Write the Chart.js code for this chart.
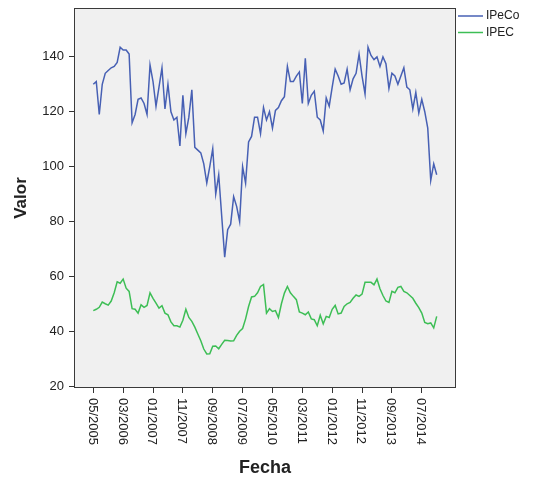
<!DOCTYPE html>
<html><head><meta charset="utf-8">
<script src="https://cdn.jsdelivr.net/npm/chart.js@4/dist/chart.umd.min.js"></script>
<style>html,body{margin:0;padding:0;background:#fff;}canvas{display:block;}</style>
</head><body>
<canvas id="c" width="536" height="485"></canvas>
<script>
// ---- data ----
const seriesNames = ['IPeCo', 'IPEC'];
const firstMonth = { year: 2005, month: 5 };
const tickIndices = [0, 10, 20, 30, 40, 50, 60, 70, 80, 90, 100, 110];
const tickLabels = ['05/2005','03/2006','01/2007','11/2007','09/2008','07/2009','05/2010','03/2011','01/2012','11/2012','09/2013','07/2014'];
const yTicks = [20, 40, 60, 80, 100, 120, 140];
const ipeco = [130,131,119,130,134,135,136,136.5,138,143.5,
142.5,142.5,141,116,119,124.5,125,123,119,137,
131,122,129,136,121,130,120,117,118,107.5,
126,112,118,128,107,106,105,101,94,100,
106.5,90,97,82,67,77,79,89,85.5,80,
100,94,109,111,118,118,112,121.5,117,120,
114,120.5,121.5,124,125.5,136.5,131,131,133,134.5,
123,139.5,123,126,127.5,118,117,113,125,122,
129,135.5,133,130,130.5,135.5,128,132,134,141,
133,126.5,143.5,140.5,139,140,136.5,140,137.5,128.5,
134,133,130,133,136,129,128,121,127,119.5,
124.5,120,114,95,101,97];
const ipec = [47.5,48,48.7,50.6,50,49.5,51,54,58,57.5,
59,55.7,54.5,48.2,48,46.6,49.6,48.7,49.4,54,
52,50.2,48.4,49.3,46.6,46,43.4,42,42,41.5,
44,48,45,43.6,41.5,39,36.5,33.5,31.7,31.8,
34.5,34.6,33.6,35.2,36.7,36.6,36.4,36.5,38.5,40,
41,44.5,49,52.5,52.7,54,56.3,57,46.6,48.2,
47.2,47.5,45,50,53.9,56.3,54,52.7,51.5,47,
46.6,46,47,44.5,44.2,42,45.8,42.7,45.4,45,
48,49.4,46.3,46.6,49,50,50.5,52,53.2,52.7,
53.5,57.8,57.8,57.8,56.9,59,55.5,53,51,50.5,
54.5,54,56,56.3,54.5,54,53,52,50.2,48.6,
46.6,43.2,42.7,43,41.2,45.4];

// month labels for each point
const months = ipeco.map((_, i) => {
  const t = firstMonth.month - 1 + i;
  const m = (t % 12) + 1, y = firstMonth.year + Math.floor(t / 12);
  return (m < 10 ? '0' : '') + m + '/' + y;
});

const colors = ['#4760B4', '#3DBE55'];
const FONT = '"Liberation Sans", Arial, sans-serif';

const framePlugin = {
  id: 'frame',
  beforeDraw(chart) {
    const { ctx, chartArea: a } = chart;
    ctx.save();
    ctx.fillStyle = '#F0F0F0';
    ctx.fillRect(a.left, a.top, a.right - a.left, a.bottom - a.top);
    ctx.restore();
  },
  afterDraw(chart) {
    const { ctx, chartArea: a, scales } = chart;
    ctx.save();
    ctx.strokeStyle = '#3a3a3a';
    ctx.lineWidth = 1;
    ctx.strokeRect(a.left + 0.5, a.top + 0.5, a.right - a.left - 1, a.bottom - a.top - 1);
    // x tick labels, rotated clockwise
    ctx.font = '13px ' + FONT;
    ctx.fillStyle = '#222';
    ctx.textAlign = 'left';
    ctx.textBaseline = 'middle';
    tickIndices.forEach((v, k) => {
      const x = scales.x.getPixelForValue(v);
      ctx.save();
      ctx.translate(x - 1, a.bottom + 10);
      ctx.rotate(Math.PI / 2);
      ctx.fillText(tickLabels[k], 0, 0);
      ctx.restore();
    });
    // legend
    ctx.font = '12px ' + FONT;
    ctx.textBaseline = 'middle';
    chart.data.datasets.forEach((ds, k) => {
      const y = 16 + k * 16.5;
      ctx.strokeStyle = ds.borderColor;
      ctx.lineWidth = 1.5;
      ctx.beginPath(); ctx.moveTo(458, y); ctx.lineTo(483, y); ctx.stroke();
      ctx.fillStyle = '#222';
      ctx.fillText(ds.label, 486, y);
    });
    ctx.restore();
  }
};

new Chart(document.getElementById('c'), {
  type: 'line',
  data: {
    labels: months,
    datasets: [
      { label: seriesNames[0], data: ipeco.map((v, i) => ({ x: i, y: v })), borderColor: colors[0], borderWidth: 1.5, pointRadius: 0, tension: 0, fill: false },
      { label: seriesNames[1], data: ipec.map((v, i) => ({ x: i, y: v })), borderColor: colors[1], borderWidth: 1.5, pointRadius: 0, tension: 0, fill: false }
    ]
  },
  options: {
    responsive: false,
    animation: false,
    devicePixelRatio: 1,
    layout: { padding: { left: 0, right: 80, top: 8, bottom: 0 } },
    plugins: { legend: { display: false }, tooltip: { enabled: false } },
    scales: {
      x: {
        type: 'linear',
        min: -6.46, max: 121.46,
        afterBuildTicks: s => { s.ticks = tickIndices.map(v => ({ value: v })); },
        afterFit: s => { s.height = 97; s.paddingLeft = 0; s.paddingRight = 0; },
        ticks: { display: false },
        grid: { drawOnChartArea: false, drawTicks: true, tickLength: 5, color: '#333' },
        border: { display: false },
        title: { display: true, text: 'Fecha', color: '#222', font: { family: FONT, size: 18, weight: 'bold' }, padding: { top: 0, bottom: 6 } }
      },
      y: {
        type: 'linear',
        min: 19.3, max: 157.8,
        afterBuildTicks: s => { s.ticks = yTicks.map(v => ({ value: v })); },
        afterFit: s => { s.width = 74; s.paddingTop = 0; s.paddingBottom = 0; },
        ticks: { color: '#222', font: { family: FONT, size: 13 }, padding: 5, includeBounds: false },
        grid: { drawOnChartArea: false, drawTicks: true, tickLength: 5, color: '#333' },
        border: { display: false },
        title: { display: true, text: 'Valor', color: '#222', font: { family: FONT, size: 17, weight: 'bold' }, padding: { top: 11, bottom: 0 } }
      }
    }
  },
  plugins: [framePlugin]
});
</script>
</body></html>
